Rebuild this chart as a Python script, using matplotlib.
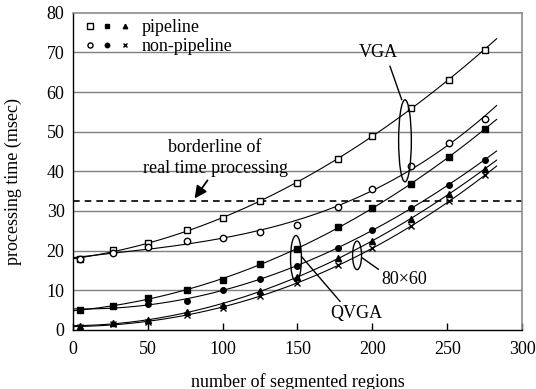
import numpy as np
import matplotlib
matplotlib.use("Agg")
import matplotlib.pyplot as plt
from matplotlib.patches import Ellipse
from matplotlib.legend_handler import HandlerTuple

plt.rcParams['font.family'] = ['Liberation Serif', 'DejaVu Serif']

# ---- data ----
x_pts = [5, 27, 50, 76, 100, 125, 150, 177, 200, 226, 251, 275]
vga_pipe = [17.9, 20.2, 21.8, 25.1, 28.2, 32.4, 37.1, 43.2, 49.0, 56.1, 63.1, 70.7]
vga_non = [18.0, 19.4, 20.8, 22.3, 23.3, 24.7, 26.5, 31.1, 35.5, 41.4, 47.1, 53.3]
qvga_pipe = [5.0, 6.0, 8.0, 10.1, 12.7, 16.6, 20.5, 25.9, 30.7, 36.9, 43.5, 50.7]
qvga_non = [5.0, 5.9, 6.6, 7.2, 10.1, 12.9, 16.2, 20.6, 25.3, 30.7, 36.6, 42.9]
s80_pipe = [1.0, 1.7, 2.5, 4.4, 6.4, 9.9, 13.3, 18.1, 22.5, 28.0, 34.3, 40.6]
s80_non = [0.8, 1.4, 2.1, 3.8, 5.6, 8.6, 11.8, 16.4, 20.6, 26.1, 32.4, 39.0]
borderline = 32.4
x_ticks = [0, 50, 100, 150, 200, 250, 300]
y_ticks = [0, 10, 20, 30, 40, 50, 60, 70, 80]

FS = 13

fig = plt.figure(figsize=(5.36, 3.89), dpi=100)
ax = fig.add_axes([0.136, 0.152, 0.838, 0.815])

ax.set_xlim(0, 300)
ax.set_ylim(0, 80)

# grid
for yv in y_ticks[1:-1]:
    ax.axhline(yv, color='#7f7f7f', lw=1.0, zorder=1)

ax.axhline(borderline, color='black', lw=1.2, ls=(0, (4, 3)), zorder=2)

series = [
    (vga_pipe, 's', 'none'),
    (vga_non, 'o', 'none'),
    (qvga_pipe, 's', 'black'),
    (qvga_non, 'o', 'black'),
    (s80_pipe, '^', 'black'),
    (s80_non, 'x', 'black'),
]
handles = []
xf = np.linspace(1, 283, 200)
for ys, mk, fc in series:
    c = np.polyfit(x_pts, ys, 3)
    ax.plot(xf, np.polyval(c, xf), color='black', lw=0.8, zorder=3)
    ms = 4.6 if fc == 'none' else 4.0
    if mk == 'x':
        ms = 4.0
    h, = ax.plot(x_pts, ys, ls='none', marker=mk, ms=ms, mfc=('white' if fc == 'none' else 'black'),
                 mec='black', mew=1.0, zorder=4)
    handles.append(h)

leg = ax.legend([(handles[0], handles[2], handles[4]), (handles[1], handles[3], handles[5])],
                ['pipeline', 'non-pipeline'],
                handler_map={tuple: HandlerTuple(ndivide=None, pad=0.3)},
                loc='upper left', frameon=False, fontsize=FS, handlelength=2.6,
                handletextpad=0.6, borderaxespad=0.1, labelspacing=0.1,
                borderpad=0.25, markerscale=0.8, bbox_to_anchor=(0.01, 1.0))

# annotations
ax.text(95, 46.0, 'borderline of', ha='center', va='center', fontsize=FS)
ax.text(95, 40.7, 'real time processing', ha='center', va='center', fontsize=FS)
ax.annotate('', xy=(80.2, 32.6), xytext=(91.0, 38.3),
            arrowprops=dict(arrowstyle='-|>', color='black', lw=1.3, mutation_scale=18))

ax.add_patch(Ellipse((221.8, 47.7), 8.5, 20.7, fill=False, ec='black', lw=1.0, zorder=5))
ax.plot([211.8, 219.6], [66.5, 58.1], color='black', lw=1.0, zorder=5)
ax.text(204, 70, 'VGA', ha='center', va='center', fontsize=FS, zorder=6)

ax.add_patch(Ellipse((149, 18.0), 7.3, 11.6, fill=False, ec='black', lw=1.0, zorder=5))
ax.plot([152.7, 178.4], [18.5, 7.2], color='black', lw=1.0, zorder=5)
ax.text(189, 4.2, 'QVGA', ha='center', va='center', fontsize=FS, zorder=6)

ax.add_patch(Ellipse((189.8, 18.8), 6.0, 7.2, fill=False, ec='black', lw=1.0, zorder=5))
ax.plot([193.5, 204], [18.1, 15.3], color='black', lw=1.0, zorder=5)
ax.text(221, 12.8, '80\u00d760', ha='center', va='center', fontsize=FS, zorder=6)

# axes styling
ax.set_xticks(x_ticks)
ax.set_yticks(y_ticks)
ax.tick_params(axis='x', direction='in', length=5, width=1, pad=8, labelsize=FS)
ax.tick_params(axis='y', length=0, pad=6, labelsize=FS)
for s in ('left', 'bottom'):
    ax.spines[s].set_color('black')
    ax.spines[s].set_linewidth(1.0)
for s in ('top', 'right'):
    ax.spines[s].set_color('#8c8c8c')
    ax.spines[s].set_linewidth(1.2)

ax.set_xlabel('number of segmented regions', fontsize=FS)
ax.xaxis.set_label_coords(0.5, -0.135)
ax.set_ylabel('processing time (msec)', fontsize=FS)
ax.yaxis.set_label_coords(-0.114, 0.468)

fig.savefig('out.png', dpi=100)
